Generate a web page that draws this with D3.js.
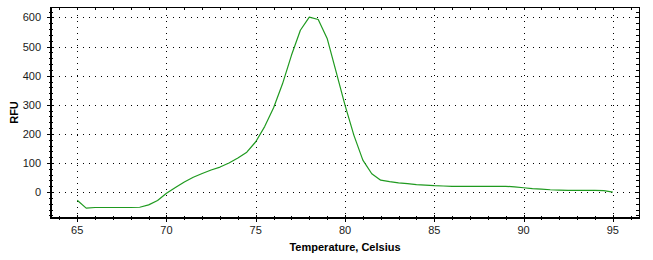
<!DOCTYPE html>
<html>
<head>
<meta charset="utf-8">
<script src="https://cdn.jsdelivr.net/npm/d3@7"></script>
<style>
  body { margin: 0; background: #fff; }
  text { font-family: "Liberation Sans", Arial, sans-serif; }
</style>
</head>
<body>
<svg id="chart" width="653" height="260"></svg>
<script>
"use strict";

// melt curve (0.5 degree steps)
const temps = [
  65.0, 65.5, 66.0, 66.5, 67.0, 67.5, 68.0, 68.5, 69.0, 69.5,
  70.0, 70.5, 71.0, 71.5, 72.0, 72.5, 73.0, 73.5, 74.0, 74.5,
  75.0, 75.5, 76.0, 76.5, 77.0, 77.5, 78.0, 78.5, 79.0, 79.5,
  80.0, 80.5, 81.0, 81.5, 82.0, 82.5, 83.0, 83.5, 84.0, 84.5,
  85.0, 85.5, 86.0, 86.5, 87.0, 87.5, 88.0, 88.5, 89.0, 89.5,
  90.0, 90.5, 91.0, 91.5, 92.0, 92.5, 93.0, 93.5, 94.0, 94.5, 95.0
];
const rfu = [
  -28, -55, -53, -53, -53, -53, -53, -52, -44, -29,
  -4, 16, 35, 51, 64, 76, 86, 100, 117, 137,
  173, 225, 290, 372, 470, 556, 601, 593, 528, 414,
  299, 195, 110, 63, 41, 36, 32, 29, 26, 24,
  22, 21, 20, 20, 20, 20, 20, 20, 20, 18,
  15, 12, 10, 8, 7, 6, 6, 6, 6, 5, 0
];
const xTicks = [65, 70, 75, 80, 85, 90, 95];
const yTicks = [0, 100, 200, 300, 400, 500, 600];
const xTitle = "Temperature, Celsius";
const yTitle = "RFU";

const pLeft = 51, pRight = 639, pTop = 7, pBottom = 218;

const x = d3.scaleLinear().domain([63.53, 96.47]).range([pLeft, pRight]);
const y = d3.scaleLinear().domain([-89, 636]).range([pBottom, pTop]);

const svg = d3.select("#chart");
const crisp = v => Math.round(v) + 0.5;

// dotted grid at the major ticks
const grid = svg.append("g")
  .attr("stroke", "#000")
  .attr("stroke-width", 1)
  .attr("stroke-dasharray", "1,5");
grid.selectAll("line.gx")
  .data(xTicks)
  .join("line")
  .attr("class", "gx")
  .attr("x1", d => crisp(x(d))).attr("x2", d => crisp(x(d)))
  .attr("y1", pTop + 2).attr("y2", pBottom);
grid.selectAll("line.gy")
  .data(yTicks)
  .join("line")
  .attr("class", "gy")
  .attr("y1", d => crisp(y(d))).attr("y2", d => crisp(y(d)))
  .attr("x1", pLeft + 2).attr("x2", pRight);

// minor tick values
const xMinor = d3.range(64, 97, 1).filter(v => !xTicks.includes(v));
const yMinor = d3.range(-80, 621, 20).filter(v => !yTicks.includes(v));

const ticks = svg.append("g").attr("stroke", "#000").attr("stroke-width", 1);

// bottom axis ticks
ticks.selectAll("line.bx")
  .data(xTicks)
  .join("line")
  .attr("class", "bx")
  .attr("x1", d => crisp(x(d))).attr("x2", d => crisp(x(d)))
  .attr("y1", pBottom - 3).attr("y2", pBottom + 4);
ticks.selectAll("line.bxm")
  .data(xMinor)
  .join("line")
  .attr("class", "bxm")
  .attr("x1", d => crisp(x(d))).attr("x2", d => crisp(x(d)))
  .attr("y1", pBottom - 2).attr("y2", pBottom + 2);

// top frame ticks (inside)
ticks.selectAll("line.tx")
  .data(xTicks.concat(xMinor))
  .join("line")
  .attr("class", "tx")
  .attr("x1", d => crisp(x(d))).attr("x2", d => crisp(x(d)))
  .attr("y1", pTop).attr("y2", pTop + 3);

// left axis ticks
ticks.selectAll("line.ly")
  .data(yTicks)
  .join("line")
  .attr("class", "ly")
  .attr("y1", d => crisp(y(d))).attr("y2", d => crisp(y(d)))
  .attr("x1", pLeft - 4).attr("x2", pLeft + 3);
ticks.selectAll("line.lym")
  .data(yMinor)
  .join("line")
  .attr("class", "lym")
  .attr("y1", d => crisp(y(d))).attr("y2", d => crisp(y(d)))
  .attr("x1", pLeft - 2).attr("x2", pLeft + 2);

// right frame ticks (inside)
ticks.selectAll("line.ry")
  .data(yTicks.concat(yMinor))
  .join("line")
  .attr("class", "ry")
  .attr("y1", d => crisp(y(d))).attr("y2", d => crisp(y(d)))
  .attr("x1", pRight - 3).attr("x2", pRight);

// frame
svg.append("line")
  .attr("x1", pLeft).attr("x2", pRight + 0.5)
  .attr("y1", pTop + 0.5).attr("y2", pTop + 0.5)
  .attr("stroke", "#000");
svg.append("line")
  .attr("x1", pRight + 0.5).attr("x2", pRight + 0.5)
  .attr("y1", pTop).attr("y2", pBottom)
  .attr("stroke", "#000");
svg.append("line")
  .attr("x1", pLeft).attr("x2", pLeft)
  .attr("y1", pTop).attr("y2", pBottom + 1)
  .attr("stroke", "#000").attr("stroke-width", 2);
svg.append("line")
  .attr("x1", pLeft - 1).attr("x2", pRight + 1)
  .attr("y1", pBottom).attr("y2", pBottom)
  .attr("stroke", "#000").attr("stroke-width", 2);

// tick labels
svg.append("g")
  .selectAll("text")
  .data(xTicks)
  .join("text")
  .attr("x", d => x(d))
  .attr("y", 234)
  .attr("text-anchor", "middle")
  .attr("font-size", 11)
  .attr("fill", "#1a1a1a")
  .text(d => d);
svg.append("g")
  .selectAll("text")
  .data(yTicks)
  .join("text")
  .attr("x", 41)
  .attr("y", d => y(d) + 4)
  .attr("text-anchor", "end")
  .attr("font-size", 11)
  .attr("fill", "#1a1a1a")
  .text(d => d);

// axis titles
svg.append("text")
  .attr("x", (pLeft + pRight) / 2)
  .attr("y", 251)
  .attr("text-anchor", "middle")
  .attr("font-size", 11)
  .attr("font-weight", "bold")
  .text(xTitle);
svg.append("text")
  .attr("transform", `translate(18,${(pTop + pBottom) / 2}) rotate(-90)`)
  .attr("text-anchor", "middle")
  .attr("font-size", 11)
  .attr("font-weight", "bold")
  .text(yTitle);

// the curve
const pts = temps.map((t, i) => [t, rfu[i]]);
const line = d3.line()
  .x(d => x(d[0]))
  .y(d => y(d[1]));
svg.append("path")
  .datum(pts)
  .attr("d", line)
  .attr("fill", "none")
  .attr("stroke", "#1f9a1f")
  .attr("stroke-width", 1.2)
  .attr("stroke-linejoin", "round");
</script>
</body>
</html>
